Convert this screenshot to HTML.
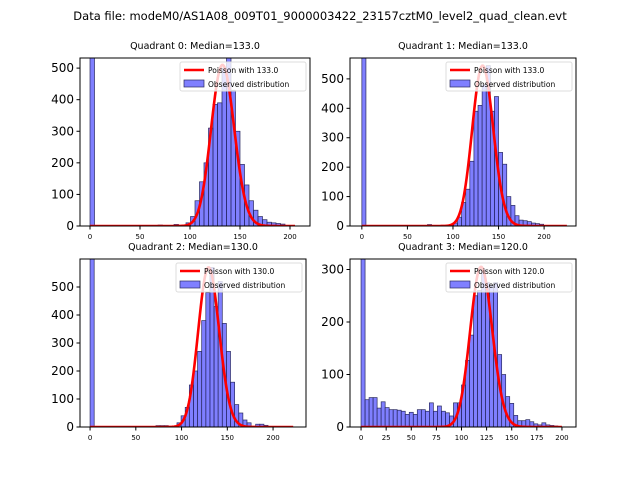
<!DOCTYPE html>
<html><head><meta charset="utf-8"><style>
body{margin:0;background:#fff;}
svg{display:block;font-family:"DejaVu Sans","Liberation Sans",sans-serif;}
</style></head><body>
<svg id="fig" width="640" height="480">
<rect width="640" height="480" fill="#fff"/>
<text x="320" y="20" font-size="11.5" text-anchor="middle">Data file: modeM0/AS1A08_009T01_9000003422_23157cztM0_level2_quad_clean.evt</text>
</svg>
<script>
// Quadrant data (bin start values and counts)
const q0Bins=[0,68,84,96,100.5,105,109.5,114,118.5,123,127.5,132,136.5,141,145.5,150,154.5,159,163.5,168,172.5,177,181.5,186,190.5];
const q0Counts=[900,3,5,10,30,80,140,200,310,385,390,500,560,430,300,195,130,80,50,30,20,12,10,8,6];
const q1Bins=[0,72,96,100.5,105,109.5,114,118.5,123,127.5,132,136.5,141,145.5,150,154.5,159,163.5,168,172.5,177,181.5,186,190.5,195];
const q1Counts=[900,5,3,10,30,80,125,220,390,410,480,545,390,440,250,210,100,70,35,20,18,15,10,8,6];
const q2Bins=[0,72,76.5,81,95,99.5,104,108.5,113,117.5,122,126.5,131,135.5,140,144.5,149,153.5,158,162.5,167,171.5,181,185.5,190];
const q2Counts=[900,5,5,5,15,40,70,150,200,270,380,480,570,430,520,370,270,160,80,50,25,15,10,10,6];
const q3Bins=[0,4,8,12,16,20,24,28,32,36,40,44,48,52,56,60,64,68,72,76,80,84,88,92,96,100,104,108,112,116,120,124,128,132,136,140,144,148,152,156,160,164,168,172,176,180,184,188,192];
const q3Counts=[600,52,56,56,36,48,37,33,33,32,30,24,28,24,33,33,30,46,30,40,30,27,21,46,46,80,127,175,250,260,300,275,270,275,138,100,58,45,22,12,12,14,10,6,4,8,4,3,2];
const medians=[133,133,130,120];
const peaks=[510,545,570,305];
const titles=["Quadrant 0: Median=133.0","Quadrant 1: Median=133.0","Quadrant 2: Median=130.0","Quadrant 3: Median=120.0"];
const yTicks=[[0,100,200,300,400,500],[0,100,200,300,400,500],[0,100,200,300,400,500],[0,100,200,300]];
const xTicks=[[0,50,100,150,200],[0,50,100,150,200],[0,50,100,150,200],[0,25,50,75,100,125,150,175,200]];
const ns="http://www.w3.org/2000/svg";
const svg=document.getElementById('fig');
function mk(t,a,p){const e=document.createElementNS(ns,t);for(const k in a)e.setAttribute(k,a[k]);(p||svg).appendChild(e);return e;}
const panels=[
 {x0:80,x1:310,y0:58,y1:226,xmin:-10,xmax:220,ymax:532,bins:q0Bins,counts:q0Counts,bw:4.5,cmax:205},
 {x0:350,x1:576,y0:58,y1:226,xmin:-13,xmax:235,ymax:571,bins:q1Bins,counts:q1Counts,bw:4.5,cmax:225},
 {x0:80,x1:306,y0:259,y1:427,xmin:-11,xmax:236,ymax:600,bins:q2Bins,counts:q2Counts,bw:4.5,cmax:222},
 {x0:350,x1:576,y0:259,y1:427,xmin:-11,xmax:214,ymax:320,bins:q3Bins,counts:q3Counts,bw:4,cmax:200}
];
function lnf(k){let s=0;for(let i=2;i<=k;i++)s+=Math.log(i);return s;}
panels.forEach((p,i)=>{
 const g=mk('g',{});
 
 
 const X=v=>p.x0+(v-p.xmin)/(p.xmax-p.xmin)*(p.x1-p.x0);
 const Y=v=>p.y1-Math.min(v,p.ymax*1.05)/p.ymax*(p.y1-p.y0);
 const cp=mk('clipPath',{id:'c'+i},g);mk('rect',{x:p.x0,y:p.y0,width:p.x1-p.x0,height:p.y1-p.y0},cp);
 const bg=mk('g',{'clip-path':'url(#c'+i+')'},g);
 p.bins.forEach((b,j)=>{
  const r=mk('rect',{x:X(b),y:Y(p.counts[j]),width:X(b+p.bw)-X(b),height:p.y1-Y(p.counts[j]),fill:'rgba(0,0,255,0.5)',stroke:'#2a2a60','stroke-width':0.7},bg);
  
  
 });
 const lam=medians[i];const pk=Math.exp(Math.floor(lam)*Math.log(lam)-lam-lnf(Math.floor(lam)));
 let d='';for(let k=0;k<=p.cmax;k++){const v=peaks[i]*Math.exp(k*Math.log(lam)-lam-lnf(k))/pk;d+=(k?'L':'M')+X(k).toFixed(2)+','+Y(v).toFixed(2);}
 const pl=mk('path',{d:d,fill:'none',stroke:'#ff0000','stroke-width':2.6,'stroke-linejoin':'round'},bg);
 
 
 mk('rect',{x:p.x0,y:p.y0,width:p.x1-p.x0,height:p.y1-p.y0,fill:'none',stroke:'#000','stroke-width':1},g);
 const t=mk('text',{x:(p.x0+p.x1)/2,y:p.y0-9,'font-size':9.5,'text-anchor':'middle'},g);t.textContent=titles[i];
 
 
 yTicks[i].forEach(v=>{const y=Y(v);mk('line',{x1:p.x0-3.5,x2:p.x0,y1:y,y2:y,stroke:'#000'},g);
  const tt=mk('text',{x:p.x0-6,y:y+4,'font-size':12,'text-anchor':'end'},g);tt.textContent=v;
  
  });
 xTicks[i].forEach(v=>{const x=X(v);mk('line',{x1:x,x2:x,y1:p.y1,y2:p.y1+3.5,stroke:'#000'},g);
  const tt=mk('text',{x:x,y:p.y1+13,'font-size':7,'text-anchor':'middle'},g);tt.textContent=v;
  
  });
 const lx=p.x1-130,ly=p.y0+4;
 const lg=mk('g',{},g);
 
 
 mk('rect',{x:lx,y:ly,width:126,height:29,rx:2,fill:'rgba(255,255,255,0.8)',stroke:'#ddd'},lg);
 mk('line',{x1:lx+4,x2:lx+24,y1:ly+8,y2:ly+8,stroke:'#ff0000','stroke-width':2.6},lg);
 const l1=mk('text',{x:lx+28,y:ly+11,'font-size':7.5},lg);l1.textContent='Poisson with '+medians[i].toFixed(1);
 mk('rect',{x:lx+4,y:ly+18,width:20,height:7,fill:'rgba(0,0,255,0.5)',stroke:'#2a2a60','stroke-width':0.7},lg);
 const l2=mk('text',{x:lx+28,y:ly+25,'font-size':7.5},lg);l2.textContent='Observed distribution';
});
</script>
</body></html>
